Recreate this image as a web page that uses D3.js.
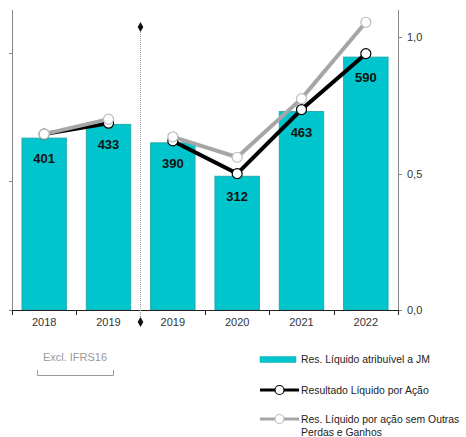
<html>
<head>
	<meta charset="utf-8">
	<script src="https://d3js.org/d3.v7.min.js"></script>
	<style>
		body { margin: 0; background: #fff; }
		text { font-family: "Liberation Sans", Arial, sans-serif; }
	</style>
</head>
<body>
<script>
var width = 466
var height = 437

// data
var categories = ["2018", "2019", "2019", "2020", "2021", "2022"]
var segment = [0, 0, 1, 1, 1, 1]
var netIncome = [401, 433, 390, 312, 463, 590]
var eps = [0.645, 0.685, 0.62, 0.50, 0.735, 0.94]
var epsAdj = [0.645, 0.70, 0.635, 0.56, 0.775, 1.055]
var rightTicks = [0, 0.5, 1.0]
var leftTicks = [0, 300, 600]
var legendLabels = ["Res. Líquido atribuível a JM", "Resultado Líquido por Ação", "Res. Líquido por ação sem Outras|Perdas e Ganhos"]

var svg = d3.select("body").append("svg")
	.attr("width", width)
	.attr("height", height)

var x = d3.scaleBand().domain(d3.range(categories.length)).range([12, 398]).paddingInner(0.31).paddingOuter(0.155)
var xb = d3.scaleLinear().domain([0, categories.length]).range([12, 398])
var yL = d3.scaleLinear().domain([0, 700]).range([310, 10])
var yR = d3.scaleLinear().domain([0, 1.1]).range([310, 10])
var fmt = d3.formatLocale({decimal: ",", thousands: ".", grouping: [3], currency: ["", "€"]}).format(".1f")

// bars
svg.selectAll("rect.bar")
	.data(netIncome)
	.enter()
	.append("rect")
		.attr("class", "bar")
		.attr("x", (d, i) => x(i))
		.attr("y", d => yL(d))
		.attr("width", x.bandwidth())
		.attr("height", d => yL(0) - yL(d))
		.attr("fill", "#00c5cd")
		.attr("stroke", "#22a9ae")
		.attr("stroke-width", 1)

svg.selectAll("text.val")
	.data(netIncome)
	.enter()
	.append("text")
		.attr("x", (d, i) => x(i) + x.bandwidth() / 2)
		.attr("y", d => yL(d) + 25)
		.attr("text-anchor", "middle")
		.attr("font-size", 13)
		.attr("font-weight", "bold")
		.attr("fill", "#111")
		.text(d => d)

// left axis
svg.append("line").attr("x1", 12.5).attr("x2", 12.5).attr("y1", 10).attr("y2", 310).attr("stroke", "#888")
svg.selectAll("line.lt").data(leftTicks).enter().append("line")
	.attr("x1", 9).attr("x2", 12.5).attr("y1", d => Math.round(yL(d)) + 0.5).attr("y2", d => Math.round(yL(d)) + 0.5)
	.attr("stroke", "#888")

// right axis
svg.append("line").attr("x1", 398.5).attr("x2", 398.5).attr("y1", 10).attr("y2", 310).attr("stroke", "#888")
svg.selectAll("line.rt").data(rightTicks).enter().append("line")
	.attr("x1", 398.5).attr("x2", 402).attr("y1", d => Math.round(yR(d)) + 0.5).attr("y2", d => Math.round(yR(d)) + 0.5)
	.attr("stroke", "#888")
svg.selectAll("text.rt").data(rightTicks).enter().append("text")
	.attr("x", 407).attr("y", d => yR(d) + 4)
	.attr("font-size", 11).attr("fill", "#333")
	.text(d => fmt(d))

// bottom axis
svg.append("line").attr("x1", 12).attr("x2", 398).attr("y1", 310.5).attr("y2", 310.5).attr("stroke", "#222")
svg.selectAll("line.bt").data(d3.range(categories.length + 1).filter(i => i != 2)).enter().append("line")
	.attr("x1", d => Math.round(xb(d)) + 0.5).attr("x2", d => Math.round(xb(d)) + 0.5)
	.attr("y1", 310).attr("y2", 315)
	.attr("stroke", "#222")
svg.selectAll("text.cat").data(categories).enter().append("text")
	.attr("x", (d, i) => x(i) + x.bandwidth() / 2)
	.attr("y", 326)
	.attr("text-anchor", "middle")
	.attr("font-size", 11)
	.attr("fill", "#333")
	.text(d => d)

// separator
var sx = Math.round(xb(2)) - 0.5
svg.append("line").attr("x1", sx).attr("x2", sx).attr("y1", 28).attr("y2", 320)
	.attr("stroke", "#999").attr("stroke-dasharray", "1,1")
var diamond = d3.symbol().type(d3.symbolDiamond).size(28)
svg.append("path").attr("d", diamond).attr("transform", "translate(" + sx + ",27)").attr("fill", "#111")
svg.append("path").attr("d", diamond).attr("transform", "translate(" + sx + ",322)").attr("fill", "#111")

// lines
var line = d3.line().x(d => x(d.i) + x.bandwidth() / 2).y(d => yR(d.v))
function drawSeries(vals, color, mstroke) {
	var pts = vals.map((v, i) => ({i: i, v: v, s: segment[i]}))
	var groups = d3.groups(pts, d => d.s)
	groups.forEach(function(g) {
		svg.append("path").datum(g[1]).attr("d", line)
			.attr("fill", "none").attr("stroke", color).attr("stroke-width", 4)
	})
	svg.selectAll(null).data(pts).enter().append("circle")
		.attr("cx", d => x(d.i) + x.bandwidth() / 2)
		.attr("cy", d => yR(d.v))
		.attr("r", 5)
		.attr("fill", "#fff")
		.attr("stroke", mstroke)
		.attr("stroke-width", 1.2)
}
drawSeries(eps, "#000", "#000")
drawSeries(epsAdj, "#a6a6a6", "#bdbdbd")

// excl. IFRS16 bracket
svg.append("text").attr("x", 75).attr("y", 361).attr("text-anchor", "middle")
	.attr("font-size", 11).attr("fill", "#999").text("Excl. IFRS16")
svg.append("path").attr("d", "M37.5,370V375.5H113.5V370").attr("fill", "none").attr("stroke", "#999")

// legend
var lg = svg.append("g").attr("transform", "translate(260,0)")
lg.append("rect").attr("x", 0).attr("y", 356.5).attr("width", 36).attr("height", 6).attr("fill", "#00c5cd").attr("stroke", "#22a9ae").attr("stroke-width", 0.5)
lg.append("line").attr("x1", 0).attr("x2", 39).attr("y1", 390).attr("y2", 390).attr("stroke", "#000").attr("stroke-width", 3)
lg.append("circle").attr("cx", 19.5).attr("cy", 390).attr("r", 4.5).attr("fill", "#fff").attr("stroke", "#000").attr("stroke-width", 1.2)
lg.append("line").attr("x1", 0).attr("x2", 39).attr("y1", 419).attr("y2", 419).attr("stroke", "#a6a6a6").attr("stroke-width", 3)
lg.append("circle").attr("cx", 19.5).attr("cy", 419).attr("r", 4.5).attr("fill", "#fff").attr("stroke", "#bdbdbd").attr("stroke-width", 1.2)
var ly = [363, 394, 423]
legendLabels.forEach(function(l, k) {
	var t = lg.append("text").attr("x", 41).attr("y", ly[k]).attr("font-size", 10.4).attr("fill", "#222")
	l.split("|").forEach(function(part, j) {
		t.append("tspan").attr("x", 41).attr("dy", j ? 13 : 0).text(part)
	})
})
</script>
</body>
</html>
